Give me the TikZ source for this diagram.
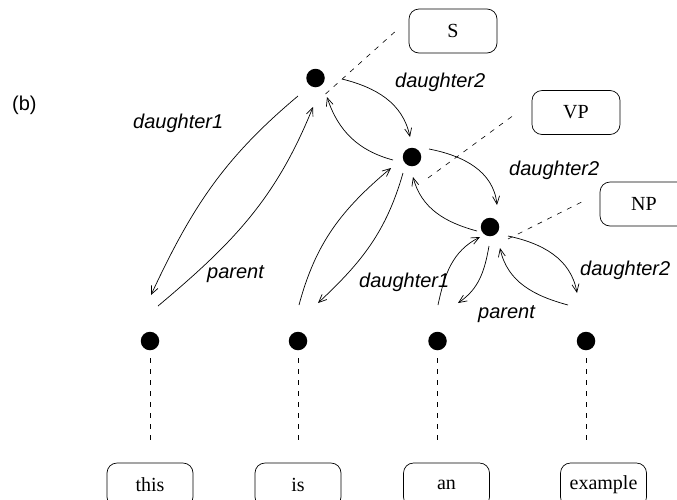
\documentclass[tikz,border=0pt]{standalone}
\usepackage{fontspec}
\setmainfont{Liberation Serif}
\newfontfamily\labelfont{Liberation Sans}
\usetikzlibrary{arrows.meta}
\begin{document}
\begin{tikzpicture}[x=1pt,y=1pt,
  every node/.style={font=\fontsize{20}{24}\selectfont},
  dot/.style={circle,fill=black,inner sep=0pt,minimum size=18.5pt},
  catbox/.style={draw,rounded corners=10pt,line width=0.7pt,minimum width=88pt,minimum height=44pt,inner sep=0pt},
  wordbox/.style={catbox,minimum width=86pt},
  lbl/.style={anchor=base west,inner sep=0pt,font=\labelfont\itshape\fontsize{20}{24}\selectfont},
  arc/.style={line width=0.7pt,-{Straight Barb[length=8pt,width=7pt,line width=0.7pt]}},
  link/.style={line width=0.6pt,dash pattern=on 5pt off 6pt}]
\clip (0,0) rectangle (677,-499);

% tree nodes
\node[dot] (s)  at (315.5,-78) {};
\node[dot] (vp) at (412,-157) {};
\node[dot] (np) at (490,-227) {};
\node[dot] (l1) at (150,-341) {};
\node[dot] (l2) at (298,-341) {};
\node[dot] (l3) at (437.5,-341) {};
\node[dot] (l4) at (586,-341) {};

% category and word boxes
\node[catbox] (Sb)  at (453,-31) {S};
\node[catbox] (VPb) at (576,-112.5) {VP};
\node[catbox] (NPb) at (644,-204) {NP};
\node[wordbox] (w1) at (150,-485) {this};
\node[wordbox] (w2) at (298,-485) {is};
\node[wordbox] (w3) at (446.5,-485) {an};
\node[wordbox] (w4) at (603.5,-485) {example};

% dashed links from nodes to their labels
\draw[link] ([shift={(10,-16)}]s.center) -- ([shift={(-14,-1)}]Sb.west);
\draw[link] ([shift={(16,-21)}]vp.center) -- ([shift={(-15,-0.5)}]VPb.west);
\draw[link] ([shift={(18,-12)}]np.center) -- ([shift={(-18,2)}]NPb.west);
\foreach \l/\w in {l1/w1,l2/w2,l3/w3,l4/w4}
  \draw[link] ([shift={(0,-17)}]\l.center) -- ([shift={(0,18)}]\l |- \w.north);

% daughter and parent arcs
\draw[arc] ([shift={(-17.5,-18)}]s.center) to[out=220,in=65] ([shift={(1,46)}]l1.center);
\draw[arc] ([shift={(8,35)}]l1.center) to[out=40,in=248] ([shift={(-2.5,-29)}]s.center);
\draw[arc] ([shift={(26.5,-1)}]s.center) to[out=-14,in=102] ([shift={(-2,20)}]vp.center);
\draw[arc] ([shift={(-19,-3)}]vp.center) to[out=165,in=-72] ([shift={(11.5,-19)}]s.center);
\draw[arc] ([shift={(-9,-16)}]vp.center) to[out=254,in=43] ([shift={(20,38)}]l2.center);
\draw[arc] ([shift={(1,36)}]l2.center) to[out=75,in=220] ([shift={(-21,-11)}]vp.center);
\draw[arc] ([shift={(17,8)}]vp.center) to[out=-11,in=96] ([shift={(7,22)}]np.center);
\draw[arc] ([shift={(-13,-4)}]np.center) to[out=165,in=285] ([shift={(1,-20)}]vp.center);
\draw[arc] ([shift={(-1,-19)}]np.center) to[out=260,in=34] ([shift={(20.5,38)}]l3.center);
\draw[arc] ([shift={(0.5,36)}]l3.center) to[out=78,in=207] ([shift={(-10,-10)}]np.center);
\draw[arc] ([shift={(18,-9)}]np.center) to[out=-12,in=100] ([shift={(-9,48)}]l4.center);
\draw[arc] ([shift={(-18,36)}]l4.center) to[out=165,in=282] ([shift={(10,-21)}]np.center);

% arc labels
\node[lbl] (d1a) at (133,-128) {daughter1};
\node[lbl] (d2a) at (395,-87) {daughter2};
\node[lbl] (d2b) at (509,-175) {daughter2};
\node[lbl] (d2c) at (580,-275) {daughter2};
\node[lbl] (d1b) at (359,-287) {daughter1};
\node[lbl] (pa) at (207,-278) {parent};
\node[lbl] (pb) at (478,-318) {parent};

% panel tag
\node[anchor=base west,inner sep=0pt,font=\labelfont\fontsize{20}{24}\selectfont] (tag) at (12,-110) {(b)};
\end{tikzpicture}
\end{document}
